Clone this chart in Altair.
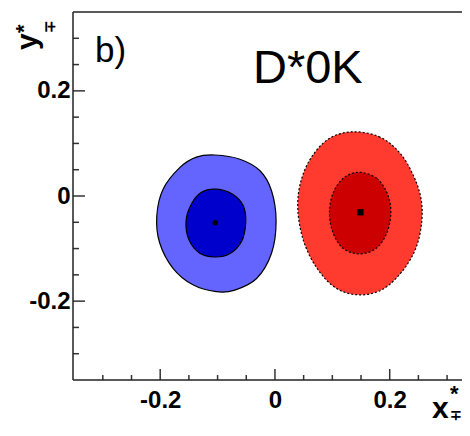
import altair as alt
import pandas as pd

# contour points, in (x*, y*) units
blue_outer_x = [-0.105, -0.061, -0.026, -0.006, 0.002, -0.006, -0.032, -0.070,
                -0.102, -0.143, -0.178, -0.201, -0.206, -0.195, -0.166, -0.137]
blue_outer_y = [0.078, 0.070, 0.048, 0.010, -0.048, -0.109, -0.157, -0.179,
                -0.182, -0.169, -0.137, -0.089, -0.038, 0.013, 0.054, 0.074]
blue_inner_x = [-0.102, -0.073, -0.055, -0.051, -0.058, -0.079,
                -0.105, -0.131, -0.150, -0.155, -0.146, -0.128]
blue_inner_y = [0.013, 0.003, -0.019, -0.051, -0.086, -0.110,
                -0.116, -0.109, -0.083, -0.048, -0.016, 0.007]
red_outer_x = [0.135, 0.181, 0.216, 0.240, 0.254, 0.256, 0.246, 0.222, 0.187,
               0.146, 0.106, 0.073, 0.050, 0.040, 0.044, 0.062, 0.094]
red_outer_y = [0.122, 0.113, 0.084, 0.042, -0.002, -0.047, -0.098, -0.143, -0.178,
               -0.188, -0.175, -0.137, -0.086, -0.028, 0.023, 0.071, 0.109]
red_inner_x = [0.149, 0.178, 0.196, 0.202, 0.195, 0.176,
               0.146, 0.117, 0.100, 0.095, 0.103, 0.123]
red_inner_y = [0.045, 0.033, 0.004, -0.031, -0.070, -0.100,
               -0.110, -0.098, -0.066, -0.028, 0.010, 0.037]

# central values
blue_center = [-0.104, -0.051]
red_center = [0.149, -0.031]

# ticks
x_major = [-0.2, 0, 0.2]
x_minor = [-0.3, -0.25, -0.15, -0.1, -0.05, 0.05, 0.1, 0.15, 0.25, 0.3]
y_major = [-0.2, 0, 0.2]
y_minor = [-0.3, -0.25, -0.15, -0.1, -0.05, 0.05, 0.1, 0.15, 0.25, 0.3]

panel_label = "b)"
channel_label = "D*0K"

# the right edge of the frame lies just outside the picture
W, H = 389, 368
FONT = "Liberation Sans"
xs = alt.Scale(domain=[-0.352, 0.326], nice=False, zero=False)
ys = alt.Scale(domain=[-0.35, 0.35], nice=False, zero=False)

x_axis = alt.Axis(values=x_major, labelExpr="toString(datum.value)", title=None,
                  ticks=False, domain=False, grid=False, labelPadding=8)
y_axis = alt.Axis(values=y_major, labelExpr="toString(datum.value)", title=None,
                  ticks=False, domain=False, grid=False, labelPadding=3)

one = pd.DataFrame({"k": [0]})


def contour(xv, yv, fill, dash=None):
    df = pd.DataFrame({"x": xv, "y": yv, "i": range(len(xv))})
    kw = dict(interpolate="cardinal-closed", filled=True, fill=fill,
              stroke="black", strokeWidth=1.2)
    if dash:
        kw["strokeDash"] = dash
    return alt.Chart(df).mark_line(**kw).encode(
        x=alt.X("x:Q", scale=xs, axis=x_axis),
        y=alt.Y("y:Q", scale=ys, axis=y_axis),
        order="i:Q",
    )


def center(c, shape, size):
    df = pd.DataFrame({"x": [c[0]], "y": [c[1]]})
    return alt.Chart(df).mark_point(shape=shape, size=size, filled=True,
                                    color="black", opacity=1).encode(
        x=alt.X("x:Q", scale=xs), y=alt.Y("y:Q", scale=ys))


def xticks(vals, length):
    return alt.Chart(pd.DataFrame({"v": vals})).mark_rule(
        color="#333", strokeWidth=1.5).encode(
        x=alt.X("v:Q", scale=xs), y=alt.value(H), y2=alt.value(H - length))


def yticks(vals, length):
    return alt.Chart(pd.DataFrame({"v": vals})).mark_rule(
        color="#333", strokeWidth=1.5).encode(
        y=alt.Y("v:Q", scale=ys), x=alt.value(0), x2=alt.value(length))


def frame(x, x2, y, y2):
    return alt.Chart(one).mark_rule(color="#222", strokeWidth=1.5).encode(
        x=alt.value(x), x2=alt.value(x2), y=alt.value(y), y2=alt.value(y2))


def label(txt, x, y, size, bold=False, angle=0):
    kw = dict(font=FONT, fontSize=size, align="left", baseline="alphabetic",
              color="black", fontWeight="bold" if bold else "normal")
    if angle:
        kw["angle"] = angle
    return alt.Chart(pd.DataFrame({"t": [txt]})).mark_text(**kw).encode(
        x=alt.value(x), y=alt.value(y), text="t:N")


chart = alt.layer(
    contour(blue_outer_x, blue_outer_y, "#6464ff"),
    contour(blue_inner_x, blue_inner_y, "#0000cc"),
    contour(red_outer_x, red_outer_y, "#ff3a2f", [2, 2]),
    contour(red_inner_x, red_inner_y, "#cc0000", [2, 2]),
    center(blue_center, "circle", 30),
    center(red_center, "square", 40),
    xticks(x_major, 11), xticks(x_minor, 5),
    yticks(y_major, 12), yticks(y_minor, 6),
    frame(0, 0, 0, H), frame(0, W, 0, 0), frame(0, W, H, H),
    label(panel_label, 22, 50, 35),
    label(channel_label, 180, 71, 47),
    label("x", 359, 406, 30, bold=True),
    label("*", 377, 389, 22, bold=True),
    label("∓", 377, 408, 14, bold=True),
    label("y", -36, 38, 30, bold=True, angle=270),
    label("*", -42, 21, 22, bold=True, angle=270),
    label("∓", -18, 21, 15, bold=True, angle=270),
).properties(
    width=W, height=H,
    autosize=alt.AutoSizeParams(type="none"),
    padding={"left": 65, "top": 4, "right": 0, "bottom": 44},
).configure_view(
    stroke=None
).configure_axis(
    labelFont=FONT, labelFontSize=24, labelFontWeight="bold", labelColor="black"
)

chart.save("out.html", embed_options={"renderer": "svg", "actions": False})
